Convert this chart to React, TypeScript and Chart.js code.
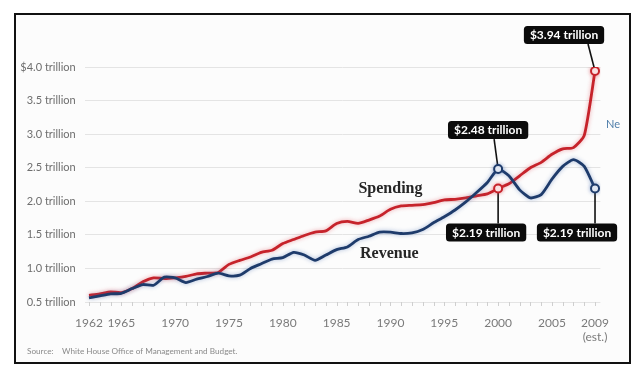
import React, { useEffect, useRef } from "react";
import { Chart, registerables } from "chart.js";

Chart.register(...registerables);

// ---------- data ----------
const years = [
  1962, 1963, 1964, 1965, 1966, 1967, 1968, 1969, 1970, 1971, 1972, 1973,
  1974, 1975, 1976, 1977, 1978, 1979, 1980, 1981, 1982, 1983, 1984, 1985,
  1986, 1987, 1988, 1989, 1990, 1991, 1992, 1993, 1994, 1995, 1996, 1997,
  1998, 1999, 2000, 2001, 2002, 2003, 2004, 2005, 2006, 2007, 2008, 2009,
];

// trillions of dollars
const spending = [
  0.6, 0.62, 0.65, 0.64, 0.7, 0.8, 0.86, 0.85, 0.86, 0.88, 0.92, 0.93,
  0.94, 1.06, 1.12, 1.17, 1.24, 1.27, 1.37, 1.43, 1.49, 1.54, 1.56, 1.67,
  1.7, 1.67, 1.72, 1.78, 1.88, 1.93, 1.94, 1.95, 1.98, 2.02, 2.03, 2.05,
  2.08, 2.11, 2.19, 2.26, 2.38, 2.5, 2.58, 2.7, 2.78, 2.8, 2.98, 3.94,
];

const revenue = [
  0.56, 0.59, 0.62, 0.63, 0.7, 0.76, 0.75, 0.87, 0.86, 0.79, 0.84, 0.88,
  0.93, 0.89, 0.9, 1.0, 1.07, 1.14, 1.16, 1.24, 1.2, 1.12, 1.2, 1.28,
  1.32, 1.43, 1.48, 1.54, 1.54, 1.52, 1.53, 1.58, 1.68, 1.77, 1.87, 1.99,
  2.13, 2.28, 2.48, 2.38, 2.17, 2.05, 2.1, 2.33, 2.52, 2.62, 2.52, 2.19,
];

const xTickYears = [1962, 1965, 1970, 1975, 1980, 1985, 1990, 1995, 2000, 2005, 2009];
const yTickValues = [0.5, 1.0, 1.5, 2.0, 2.5, 3.0, 3.5, 4.0];
const markedYears = [2000, 2009];

const seriesNames = ["Spending", "Revenue"];
const sourceLabel = "Source:";
const sourceText = "White House Office of Management and Budget.";

// ---------- styling / placement ----------
const RED = "#c6232b";
const BLUE = "#1e3b6b";
const SANS = "Lato, 'Open Sans', sans-serif";
const SERIF = "'Liberation Serif', 'DejaVu Serif', serif";

// callouts: which series / year; box offset from point (px)
const callouts = [
  { series: 0, year: 2009, dx: -31, dy: -36, lx: -7 },
  { series: 1, year: 2000, dx: -10, dy: -39, lx: -4 },
  { series: 0, year: 2000, dx: -12, dy: 44, lx: 0 },
  { series: 1, year: 2009, dx: -18, dy: 44, lx: 0 },
];

// series name labels anchored in data space
const nameAnchors = [
  { x: 1990, y: 2.19 },
  { x: 1989.9, y: 1.22 },
];

function roundRect(ctx: CanvasRenderingContext2D, x: number, y: number, w: number, h: number, r: number) {
  ctx.beginPath();
  ctx.moveTo(x + r, y);
  ctx.lineTo(x + w - r, y);
  ctx.quadraticCurveTo(x + w, y, x + w, y + r);
  ctx.lineTo(x + w, y + h - r);
  ctx.quadraticCurveTo(x + w, y + h, x + w - r, y + h);
  ctx.lineTo(x + r, y + h);
  ctx.quadraticCurveTo(x, y + h, x, y + h - r);
  ctx.lineTo(x, y + r);
  ctx.quadraticCurveTo(x, y, x + r, y);
  ctx.closePath();
}

const seriesData = [spending, revenue];

const decorPlugin = {
  id: "decor",
  beforeDatasetDraw(chart: any, args: any) {
    const ctx = chart.ctx;
    ctx.save();
    ctx.shadowColor = args.index === 0 ? "rgba(220,60,70,0.45)" : "rgba(60,100,170,0.45)";
    ctx.shadowBlur = 4;
  },
  afterDatasetDraw(chart: any) {
    chart.ctx.restore();
  },
  beforeDatasetsDraw(chart: any) {
    const ctx = chart.ctx;
    const xs = chart.scales.x;
    const ys = chart.scales.y;
    ctx.save();
    ctx.strokeStyle = "#111";
    ctx.lineWidth = 1.6;
    callouts.forEach((c) => {
      const idx = years.indexOf(c.year);
      const v = seriesData[c.series][idx];
      const px = xs.getPixelForValue(c.year);
      const py = ys.getPixelForValue(v);
      const edge = c.dy < 0 ? py + c.dy + 9 : py + c.dy - 9;
      ctx.beginPath();
      ctx.moveTo(px + c.lx, edge);
      ctx.lineTo(px, py);
      ctx.stroke();
    });
    ctx.restore();
  },
  afterDatasetsDraw(chart: any) {
    const ctx = chart.ctx;
    const xs = chart.scales.x;
    const ys = chart.scales.y;
    const area = chart.chartArea;
    ctx.save();

    // minor year ticks under baseline
    ctx.strokeStyle = "#cfcfcf";
    ctx.lineWidth = 1;
    years.forEach((yr) => {
      const x = Math.round(xs.getPixelForValue(yr)) + 0.5;
      ctx.beginPath();
      ctx.moveTo(x, area.bottom);
      ctx.lineTo(x, area.bottom + 4);
      ctx.stroke();
    });

    // callout boxes
    ctx.font = `bold 12px ${SANS}`;
    ctx.textAlign = "center";
    ctx.textBaseline = "middle";
    callouts.forEach((c) => {
      const idx = years.indexOf(c.year);
      const v = seriesData[c.series][idx];
      const px = xs.getPixelForValue(c.year);
      const py = ys.getPixelForValue(v);
      const text = `$${v.toFixed(2)} trillion`;
      const w = ctx.measureText(text).width + 12;
      const h = 18;
      const cx = px + c.dx;
      const cy = py + c.dy;
      ctx.fillStyle = "#0b0b0b";
      roundRect(ctx, cx - w / 2, cy - h / 2, w, h, 3.5);
      ctx.fill();
      ctx.fillStyle = "#ffffff";
      ctx.fillText(text, cx, cy + 0.5);
    });

    // series name labels
    ctx.font = `bold 16px ${SERIF}`;
    ctx.fillStyle = "#262626";
    nameAnchors.forEach((a, i) => {
      ctx.fillText(seriesNames[i], xs.getPixelForValue(a.x), ys.getPixelForValue(a.y));
    });

    // clipped side label
    ctx.font = `11px ${SANS}`;
    ctx.fillStyle = "#4f7eaa";
    ctx.textAlign = "left";
    ctx.fillText("Ne", 606, 124);

    // source line
    ctx.font = `8.2px ${SANS}`;
    ctx.fillStyle = "#8a8a8a";
    ctx.fillText(sourceLabel, 27, 351);
    ctx.fillText(sourceText, 62, 351);

    ctx.restore();
  },
};

export default function App() {
  const canvasRef = useRef<HTMLCanvasElement | null>(null);

  useEffect(() => {
    const canvas = canvasRef.current;
    if (!canvas) return;
    const pointRadii = years.map((y) => (markedYears.includes(y) ? 4 : 0));
    const chart = new Chart(canvas, {
      type: "line",
      data: {
        datasets: [
          {
            label: seriesNames[0],
            data: years.map((y, i) => ({ x: y, y: spending[i] })),
            borderColor: RED,
            borderWidth: 2.8,
            tension: 0.2,
            pointRadius: pointRadii,
            pointHoverRadius: 0,
            pointBackgroundColor: "#ffffff",
            pointBorderColor: RED,
            pointBorderWidth: 2,
            fill: false,
            order: 1,
          },
          {
            label: seriesNames[1],
            data: years.map((y, i) => ({ x: y, y: revenue[i] })),
            borderColor: BLUE,
            borderWidth: 2.8,
            tension: 0.2,
            pointRadius: pointRadii,
            pointHoverRadius: 0,
            pointBackgroundColor: "#ffffff",
            pointBorderColor: BLUE,
            pointBorderWidth: 2,
            fill: false,
            order: 0,
          },
        ],
      },
      options: {
        animation: false,
        responsive: false,
        maintainAspectRatio: false,
        events: [],
        layout: { padding: { top: 67, right: 41.6, left: 0, bottom: 0 } },
        plugins: {
          legend: { display: false },
          tooltip: { enabled: false },
          title: { display: false },
        },
        scales: {
          x: {
            type: "linear",
            min: 1961.6,
            max: 2009.5,
            afterBuildTicks: (s: any) => {
              s.ticks = xTickYears.map((v) => ({ value: v }));
            },
            afterFit: (s: any) => {
              s.height = 70;
            },
            ticks: {
              autoSkip: false,
              maxRotation: 0,
              minRotation: 0,
              padding: 14,
              color: "#7a7a7a",
              font: { family: SANS, size: 12 },
              callback: (v: any) => (v === 2009 ? ["2009", "(est.)"] : String(v)),
            },
            grid: { display: false, drawTicks: false },
            border: { display: false },
          },
          y: {
            min: 0.5,
            max: 4.0,
            afterBuildTicks: (s: any) => {
              s.ticks = yTickValues.map((v) => ({ value: v }));
            },
            afterFit: (s: any) => {
              s.width = 84.7;
            },
            ticks: {
              padding: 9,
              color: "#6e6e6e",
              font: { family: SANS, size: 11 },
              callback: (v: any) => (v === 4 ? "$4.0 trillion" : `${Number(v).toFixed(1)} trillion`),
            },
            grid: { color: "#e4e4e4", lineWidth: 1, drawTicks: false },
            border: { display: false },
          },
        },
      },
      plugins: [decorPlugin],
    } as any);
    return () => chart.destroy();
  }, []);

  return (
    <div
      style={{
        position: "fixed",
        left: 0,
        top: 0,
        width: 642,
        height: 372,
        background: "#ffffff",
        overflow: "hidden",
      }}
    >
      <div
        style={{
          position: "absolute",
          left: 14,
          top: 13,
          width: 617,
          height: 351,
          boxSizing: "border-box",
          border: "2px solid #111",
          background: "#fcfcfc",
        }}
      />
      <canvas
        ref={canvasRef}
        width={642}
        height={372}
        style={{ position: "absolute", left: 0, top: 0, display: "block" }}
      />
    </div>
  );
}
